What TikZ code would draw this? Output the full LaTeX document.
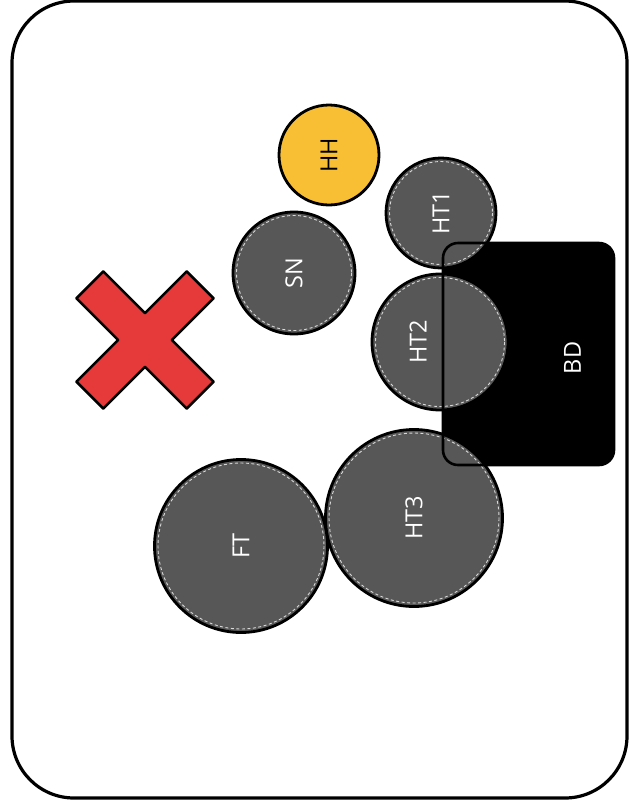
\documentclass[tikz,border=0pt]{standalone}
\usepackage{fontspec}
\setmainfont{Open Sans}
\definecolor{drumgrey}{HTML}{575757}
\definecolor{hhyellow}{HTML}{F9BF34}
\definecolor{xred}{HTML}{E63A3A}
\begin{document}
\begin{tikzpicture}[x=1pt,y=-1pt,
  drum/.style={circle,fill=drumgrey,draw=black,line width=2.8pt,inner sep=0pt,text=white,
     font=\fontsize{23.5}{26}\selectfont,rotate=90},
  cymbal/.style={circle,fill=hhyellow,draw=black,line width=2.8pt,inner sep=0pt,text=black,
     font=\fontsize{23.5}{26}\selectfont,rotate=90},
  drumlabel/.style={text=white,rotate=90,font=\fontsize{23.5}{26}\selectfont,anchor=center},
  inner dash/.style={draw=white!85!black,line width=0.9pt,dash pattern=on 3pt off 2.5pt},
  border/.style={draw=black,line width=3.2pt,rounded corners=62pt}]
\useasboundingbox (0,0) rectangle (629,807);
% outer frame
\draw[border] (12,1) rectangle (627,798);
% bass drum fill
\fill[black,rounded corners=15pt] (443,243) rectangle (614,465);
% drums
\node[cymbal,minimum size=100pt] (HH) at (329,155) {HH};
\node[drum,minimum size=110pt] (HT1) at (441,213) {HT1};
\node[drum,minimum size=122pt] (SN) at (294,273) {SN};
\node[drum,minimum size=136pt] (HT2) at (440,342) {};
\node[drum,minimum size=177pt] (HT3) at (414,518) {HT3};
\node[drum,minimum size=173pt] (FT) at (241,546) {FT};
\foreach \n/\r in {HT1/51.5,SN/57.5,HT2/64.5,HT3/85,FT/83}{
  \draw[inner dash] (\n.center) circle[radius=\r];
}
% bass drum outline and label
\node[draw=black,line width=2.6pt,rounded corners=15pt,minimum width=171pt,minimum height=222pt,
  inner sep=0pt] (BD) at (528.5,354) {};
\node[drumlabel] (BDlabel) at ([xshift=44pt,yshift=-4pt]BD.center) {BD};
\node[drumlabel] (HT2label) at ([xshift=-22pt]HT2.center) {HT2};
% red cross
\draw[fill=xred,draw=black,line width=2.6pt,line join=round,shift={(145,340)},rotate=45]
  (19,19) -- (78,19) -- (78,-19) -- (19,-19) -- (19,-78) -- (-19,-78) -- (-19,-19)
  -- (-78,-19) -- (-78,19) -- (-19,19) -- (-19,78) -- (19,78) -- cycle;
\end{tikzpicture}
\end{document}
